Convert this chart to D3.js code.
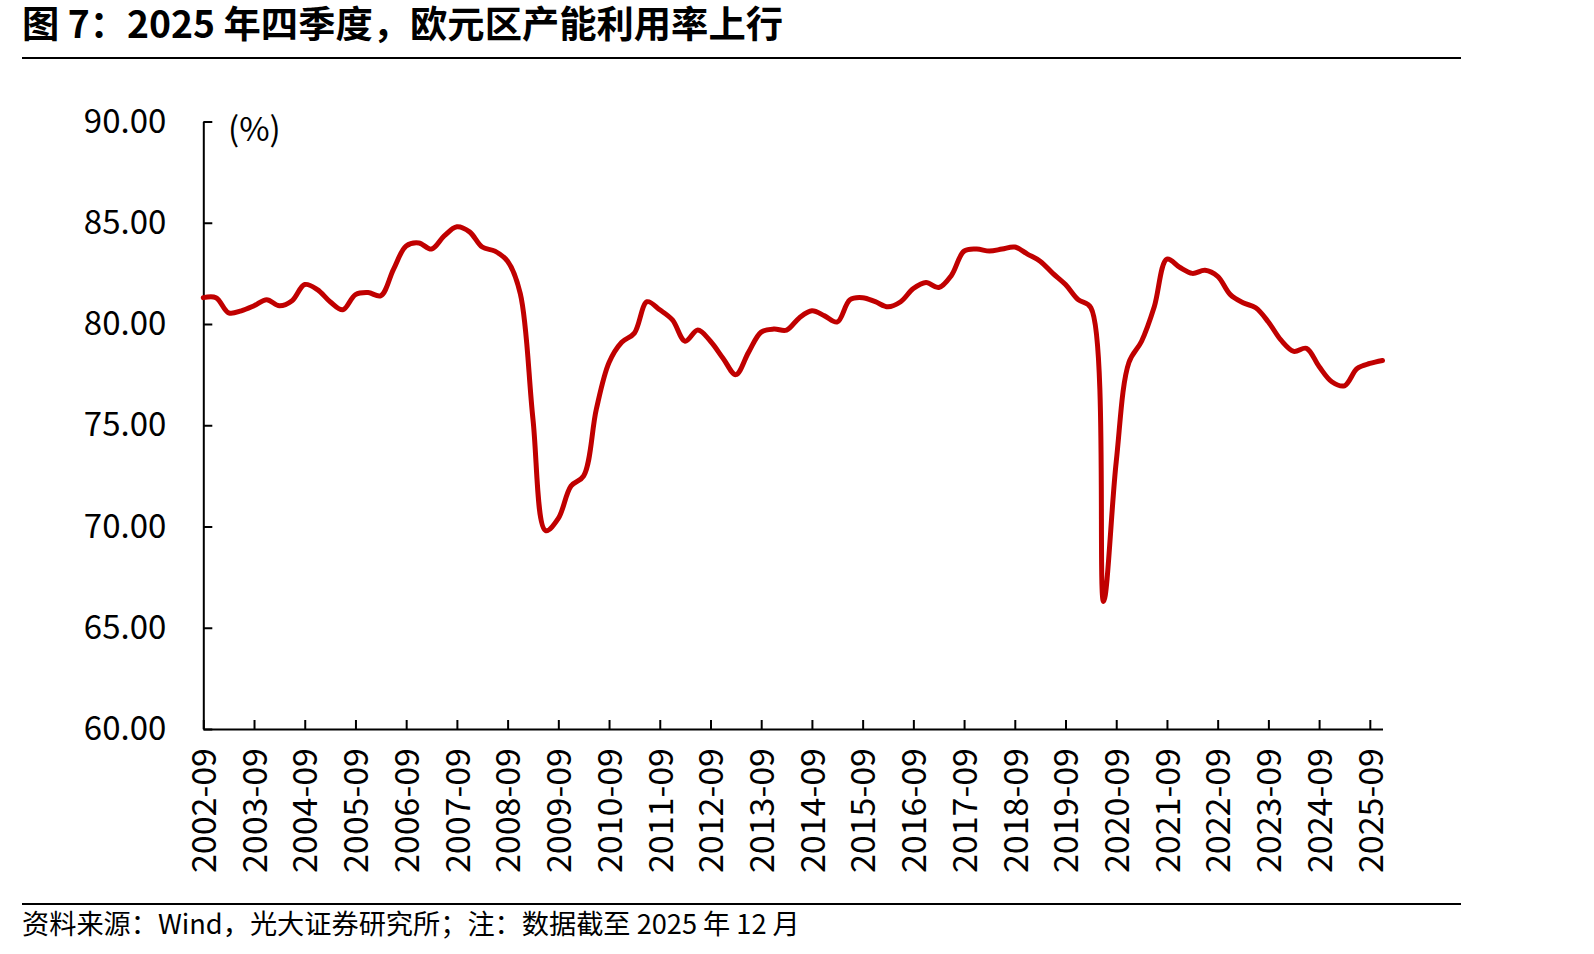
<!DOCTYPE html>
<html>
<head>
<meta charset="utf-8">
<script src="https://cdn.jsdelivr.net/npm/d3@7"></script>
<style>
body { margin: 0; background: #fff; }
svg { display: block; font-family: "Noto Sans CJK SC", "Noto Sans", sans-serif; }
</style>
</head>
<body>
<svg width="1594" height="954"></svg>
<script>
// quarterly categories 2002-09 .. 2025-12
var months = ["03", "06", "09", "12"];
var quarters = [];
for (var yr = 2002; yr <= 2025; yr++) {
    months.forEach(function(m) {
        var q = yr + "-" + m;
        if (q >= "2002-09") quarters.push(q);
    });
}

// eurozone capacity utilisation (%)
var utilisation = [
    81.3, 81.3, 80.55, 80.65, 80.9, 81.2, 80.9, 81.15, 81.95, 81.7,
    81.1, 80.7, 81.45, 81.55, 81.4, 82.7, 83.85, 84.0, 83.7, 84.35,
    84.8, 84.55, 83.8, 83.6, 83.1, 81.5, 75.3, 69.8, 70.4, 72.0,
    72.5, 75.8, 78.1, 79.1, 79.55, 81.1, 80.7, 80.2, 79.15, 79.7,
    79.15, 78.3, 77.5, 78.6, 79.6, 79.75, 79.7, 80.3, 80.65, 80.4,
    80.1, 81.2, 81.3, 81.1, 80.85, 81.1, 81.75, 82.05, 81.8, 82.4,
    83.6, 83.7, 83.6, 83.7, 83.8, 83.45, 83.1, 82.5, 81.95, 81.2,
    80.8, 66.3, 73.2, 78.1, 79.15, 80.85, 83.2, 82.8, 82.5, 82.65,
    82.35, 81.45, 81.05, 80.8, 80.1, 79.2, 78.65, 78.8, 77.9, 77.15,
    76.95, 77.8, 78.05, 78.2
];

var tickLabels = quarters.filter(function(q) { return q.slice(5) === "09"; });
var yTicks = [60, 65, 70, 75, 80, 85, 90];

var title = "图 7：2025 年四季度，欧元区产能利用率上行";
var source = "资料来源：Wind，光大证券研究所；注：数据截至 2025 年 12 月";

var svg = d3.select("svg");

var plotLeft = 203.3, plotRight = 1382.5, plotTop = 121.5, plotBottom = 729;

var x = d3.scalePoint().domain(quarters).range([plotLeft, plotRight]);
var y = d3.scaleLinear().domain([60, 90]).range([plotBottom, plotTop]);

// title and rules
svg.append("text")
    .attr("x", 22).attr("y", 38)
    .attr("font-size", 37.3).attr("font-weight", 700)
    .attr("fill", "#000")
    .text(title);

svg.append("line")
    .attr("x1", 22).attr("x2", 1461).attr("y1", 58).attr("y2", 58)
    .attr("stroke", "#000").attr("stroke-width", 2);

svg.append("line")
    .attr("x1", 22).attr("x2", 1461).attr("y1", 904).attr("y2", 904)
    .attr("stroke", "#000").attr("stroke-width", 2);

svg.append("text")
    .attr("x", 22).attr("y", 934)
    .attr("font-size", 27.2)
    .attr("fill", "#000")
    .text(source);

// y axis
var yAxis = svg.append("g")
    .attr("transform", "translate(" + plotLeft + ",0)")
    .call(d3.axisLeft(y).tickValues(yTicks).tickFormat(d3.format(".2f"))
        .tickSizeInner(-9).tickSizeOuter(0).tickPadding(37));

yAxis.selectAll("text").attr("font-size", 33).attr("fill", "#000")
    .style("font-family", "'Noto Sans CJK SC', sans-serif");

// x axis
var xAxis = svg.append("g")
    .attr("transform", "translate(0," + plotBottom + ")")
    .call(d3.axisBottom(x).tickValues(tickLabels).tickSizeInner(-9).tickSizeOuter(0));

xAxis.selectAll("text")
    .attr("transform", "rotate(-90)")
    .attr("x", -19).attr("y", 0).attr("dy", "0.36em")
    .style("text-anchor", "end")
    .attr("font-size", 34).attr("fill", "#000")
    .style("font-family", "'Noto Sans CJK SC', sans-serif");

svg.selectAll(".domain, .tick line").attr("stroke", "#000").attr("stroke-width", 2);

// unit label
svg.append("text")
    .attr("x", 228).attr("y", 129)
    .attr("dy", "0.35em")
    .attr("font-size", 33)
    .text("(%)");

// series
var line = d3.line()
    .x(function(d, i) { return x(quarters[i]); })
    .y(function(d) { return y(d); })
    .curve(d3.curveCatmullRom.alpha(0.5));

svg.append("path")
    .datum(utilisation)
    .attr("d", line)
    .attr("fill", "none")
    .attr("stroke", "#C00000")
    .attr("stroke-width", 5)
    .attr("stroke-linejoin", "round")
    .attr("stroke-linecap", "round");
</script>
</body>
</html>
